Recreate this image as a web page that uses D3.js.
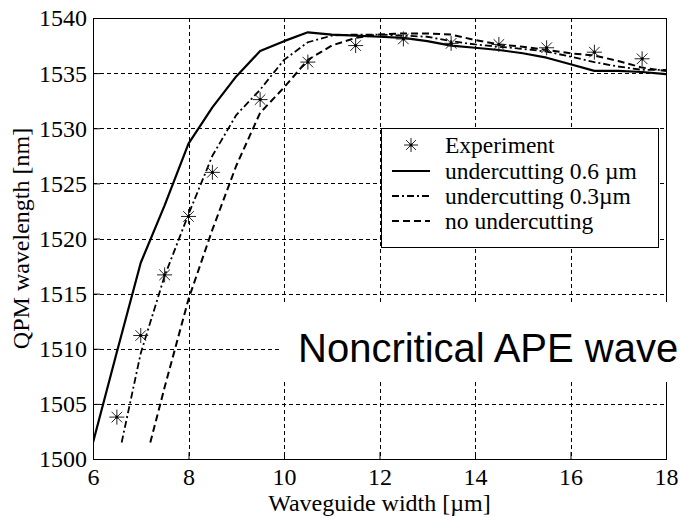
<!DOCTYPE html>
<html>
<head>
<meta charset="utf-8">
<script src="https://cdn.jsdelivr.net/npm/d3@7"></script>
<style>
  html, body { margin: 0; padding: 0; background: #fff; }
  svg { display: block; }
</style>
</head>
<body>
<svg id="chart" width="680" height="518"></svg>
<script>
// Measured QPM wavelength vs. waveguide width
const expX = [6.5, 7, 7.5, 8, 8.5, 9.5, 10.5, 11.5, 12.5, 13.5, 14.5, 15.5, 16.5, 17.5];
const expY = [1503.8, 1511.2, 1516.7, 1522.0, 1526.0, 1532.6, 1536.0, 1537.5, 1538.1, 1537.7, 1537.6, 1537.3, 1536.9, 1536.3];

// Simulation: undercutting 0.6 µm
const uc06X = [6, 6.5, 7, 7.5, 8, 8.5, 9, 9.5, 10, 10.5, 11, 11.5, 12, 12.5, 13, 13.5, 14, 14.5, 15, 15.5, 16, 16.5, 17, 17.5, 18];
const uc06Y = [1501.5, 1509.7, 1517.8, 1523.0, 1528.6, 1531.9, 1534.7, 1537.0, 1537.9, 1538.7, 1538.5, 1538.4, 1538.3, 1538.2, 1537.9, 1537.5, 1537.3, 1537.1, 1536.8, 1536.4, 1535.8, 1535.2, 1535.2, 1535.1, 1534.9];

// Simulation: undercutting 0.3 µm
const uc03X = [6.6, 7, 7.5, 8, 8.5, 9, 9.5, 10, 10.5, 11, 11.5, 12, 12.5, 13, 13.5, 14, 14.5, 15, 15.5, 16, 16.5, 17, 17.5, 18];
const uc03Y = [1501.5, 1509.6, 1516.6, 1522.2, 1527.5, 1531.2, 1533.5, 1536.2, 1537.8, 1538.4, 1538.5, 1538.5, 1538.4, 1538.3, 1537.9, 1537.6, 1537.4, 1537.2, 1536.95, 1536.5, 1536.0, 1535.6, 1535.3, 1535.3];

// Simulation: no undercutting
const uc00X = [7.2, 7.5, 8, 8.5, 9, 9.5, 10, 10.5, 11, 11.5, 12, 12.5, 13, 13.5, 14, 14.5, 15, 15.5, 16, 16.5, 17, 17.5, 18];
const uc00Y = [1501.5, 1506.5, 1514.5, 1520.8, 1526.6, 1531.4, 1533.7, 1536.2, 1537.5, 1538.2, 1538.5, 1538.6, 1538.6, 1538.5, 1538.0, 1537.6, 1537.4, 1537.1, 1536.8, 1536.6, 1536.1, 1535.5, 1535.2];

const xTicks = [6, 8, 10, 12, 14, 16, 18];
const yTicks = [1500, 1505, 1510, 1515, 1520, 1525, 1530, 1535, 1540];

const legendLabels = ["Experiment", "undercutting 0.6 \u00b5m", "undercutting 0.3\u00b5m", "no undercutting"];
const overlayText = "Noncritical APE wave";

const serif = "'Liberation Serif', 'Times New Roman', serif";
const svg = d3.select("#chart");

const plot = { left: 93, right: 666, top: 18, bottom: 459 };
const x = d3.scaleLinear().domain([6, 18]).range([plot.left, plot.right]);
const y = d3.scaleLinear().domain([1500, 1540]).range([plot.bottom, plot.top]);

// grid
const grid = svg.append("g").attr("stroke", "#000").attr("stroke-width", 1)
  .attr("stroke-dasharray", "4,3").attr("shape-rendering", "crispEdges");
grid.selectAll("line.gx").data(xTicks.slice(1, -1)).join("line")
  .attr("x1", d => Math.round(x(d)) + 0.5).attr("x2", d => Math.round(x(d)) + 0.5)
  .attr("y1", plot.top).attr("y2", plot.bottom);
grid.selectAll("line.gy").data(yTicks.slice(1, -1)).join("line")
  .attr("y1", d => Math.round(y(d)) + 0.5).attr("y2", d => Math.round(y(d)) + 0.5)
  .attr("x1", plot.left).attr("x2", plot.right);

// axes
const xAxis = d3.axisBottom(x).tickValues(xTicks).tickFormat(d3.format("d"))
  .tickSizeInner(-7).tickSizeOuter(0).tickPadding(9);
const yAxis = d3.axisLeft(y).tickValues(yTicks).tickFormat(d3.format("d"))
  .tickSizeInner(-7).tickSizeOuter(0).tickPadding(6);

const gx = svg.append("g").attr("transform", `translate(0,${plot.bottom})`).call(xAxis);
const gy = svg.append("g").attr("transform", `translate(${plot.left},0)`).call(yAxis);
[gx, gy].forEach(g => {
  g.select(".domain").remove();
  g.selectAll("line").attr("stroke", "#000");
  g.selectAll("text").attr("font-family", serif).attr("font-size", 24).attr("fill", "#000");
});
gy.selectAll("text").attr("dy", "0.33em");

// plot frame
svg.append("rect")
  .attr("x", plot.left + 0.5).attr("y", plot.top + 0.5)
  .attr("width", plot.right - plot.left).attr("height", plot.bottom - plot.top)
  .attr("fill", "none").attr("stroke", "#000").attr("stroke-width", 1);

// series
svg.append("clipPath").attr("id", "plotclip").append("rect")
  .attr("x", plot.left).attr("y", plot.top)
  .attr("width", plot.right - plot.left).attr("height", plot.bottom - plot.top);

const line = d3.line().x(d => x(d[0])).y(d => y(d[1]));
const series = [
  { xs: uc06X, ys: uc06Y, dash: null, width: 2.2 },
  { xs: uc03X, ys: uc03Y, dash: "7,3,2,3", width: 1.8 },
  { xs: uc00X, ys: uc00Y, dash: "7,4", width: 2 }
];
const sg = svg.append("g").attr("clip-path", "url(#plotclip)");
series.forEach(s => {
  sg.append("path")
    .datum(s.xs.map((v, i) => [v, s.ys[i]]))
    .attr("d", line)
    .attr("fill", "none").attr("stroke", "#000")
    .attr("stroke-width", s.width)
    .attr("stroke-dasharray", s.dash)
    .attr("stroke-linejoin", "round");
});

// asterisk marker
function asterisk(g, cx, cy, r) {
  const m = g.append("g").attr("transform", `translate(${cx},${cy})`)
    .attr("stroke", "#222").attr("stroke-width", 1);
  [0, 45, 90, 135].forEach(a => {
    const rad = a * Math.PI / 180;
    m.append("line")
      .attr("x1", -r * Math.cos(rad)).attr("y1", -r * Math.sin(rad))
      .attr("x2", r * Math.cos(rad)).attr("y2", r * Math.sin(rad));
  });
  m.append("circle").attr("r", 1.6).attr("fill", "#000").attr("stroke", "none");
}
const mg = svg.append("g");
expX.forEach((v, i) => asterisk(mg, x(v), y(expY[i]), 7.5));

// legend
const lg = svg.append("g");
lg.append("rect")
  .attr("x", 381.5).attr("y", 128.5).attr("width", 277).attr("height", 119)
  .attr("fill", "#fff").attr("stroke", "#000").attr("stroke-width", 1);
const rowY = [145, 171, 196, 221];
legendLabels.forEach((t, i) => {
  const yy = rowY[i];
  if (i === 0) {
    asterisk(lg, 411, yy, 7);
  } else {
    const s = series[i - 1];
    lg.append("line").attr("x1", 392).attr("x2", 430).attr("y1", yy).attr("y2", yy)
      .attr("stroke", "#000").attr("stroke-width", s.width)
      .attr("stroke-dasharray", s.dash);
  }
  lg.append("text").attr("x", 445).attr("y", yy).attr("dy", "0.33em")
    .attr("font-family", serif).attr("font-size", 23.5).attr("fill", "#000").text(t);
});

// axis titles
svg.append("text")
  .attr("x", (plot.left + plot.right) / 2).attr("y", 511)
  .attr("text-anchor", "middle").attr("font-family", serif).attr("font-size", 24)
  .text("Waveguide width [\u00b5m]");
svg.append("text")
  .attr("transform", `translate(29,${(plot.top + plot.bottom) / 2}) rotate(-90)`)
  .attr("text-anchor", "middle").attr("font-family", serif).attr("font-size", 24)
  .text("QPM wavelength [nm]");

// overlay caption on a white panel
svg.append("rect").attr("x", 280).attr("y", 302).attr("width", 400).attr("height", 80)
  .attr("fill", "#fff");
svg.append("text").attr("x", 298).attr("y", 362)
  .attr("font-family", "'Liberation Sans', Arial, sans-serif").attr("font-size", 40)
  .attr("fill", "#000").text(overlayText);
</script>
</body>
</html>
